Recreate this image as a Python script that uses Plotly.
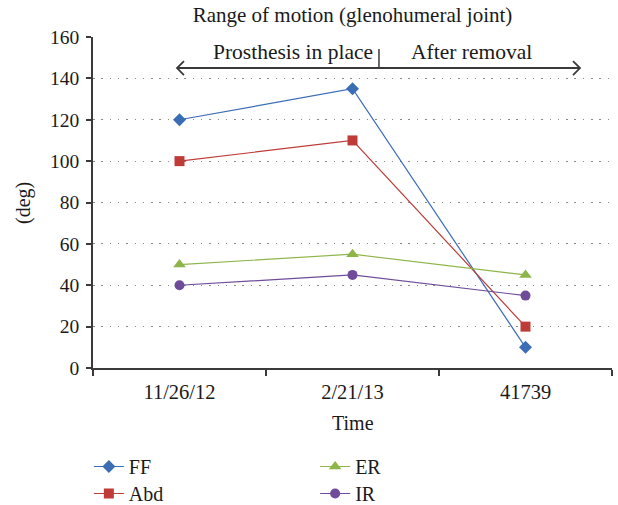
import plotly.graph_objects as go

categories = ["11/26/12", "2/21/13", "41739"]
ff = [120, 135, 10]
abd = [100, 110, 20]
er = [50, 55, 45]
ir = [40, 45, 35]
y_ticks = [0, 20, 40, 60, 80, 100, 120, 140, 160]

FONT = "Liberation Serif"
TXT = "#1a1a1a"
AX = "#3a3a3a"
fig = go.Figure()
series = [
    ("FF", ff, "#3b6db5", "diamond", 10, "legend"),
    ("Abd", abd, "#be3b38", "square", 10, "legend3"),
    ("ER", er, "#8db548", "triangle-up", 11, "legend2"),
    ("IR", ir, "#6e4c9a", "circle", 10, "legend4"),
]
for name, vals, col, sym, sz, lg in series:
    fig.add_trace(go.Scatter(
        x=categories, y=vals, name=name, mode="lines+markers",
        line=dict(color=col, width=1.2),
        marker=dict(symbol=sym, size=sz, color=col),
        legend=lg,
    ))


def leg(x, y):
    return dict(x=x, y=y, xanchor="left", yanchor="top", orientation="v",
                font=dict(size=20, family=FONT, color=TXT), tracegroupgap=0, itemwidth=30,
                bgcolor="rgba(0,0,0,0)")


row1 = -(447 - 368) / 331
row2 = -(474 - 368) / 331
fig.update_layout(
    width=618, height=505,
    margin=dict(l=93, r=6, t=37, b=137, autoexpand=False),
    paper_bgcolor="white", plot_bgcolor="white",
    font=dict(family=FONT, size=20, color=TXT),
    title=dict(text="Range of motion (glenohumeral joint)", x=0.5, xref="paper", xanchor="center",
               y=1 - 15 / 505, yref="container", yanchor="middle",
               font=dict(size=21, family=FONT, color=TXT)),
    legend=leg(-0.008, row1),
    legend2=leg(0.428, row1),
    legend3=leg(-0.008, row2),
    legend4=leg(0.428, row2),
    showlegend=True,
)
fig.update_xaxes(
    type="category", range=[-0.5, 2.5], tickson="boundaries",
    ticks="outside", ticklen=6, tickcolor=AX, tickwidth=1.5,
    showline=True, linecolor=AX, linewidth=1.8, showgrid=False,
    tickfont=dict(size=20.5, family=FONT, color=TXT), ticklabelstandoff=4,
    automargin=False,
)
fig.update_yaxes(
    range=[0, 160], tickvals=y_ticks, ticks="outside", ticklen=5,
    tickcolor=AX, tickwidth=1.5, showline=True, linecolor=AX, linewidth=1.8,
    showgrid=True, gridcolor="#8a8a8a", griddash="1.5px,6.8px", gridwidth=1.2, zeroline=False,
    tickfont=dict(size=19.5, family=FONT, color=TXT), ticklabelstandoff=3,
    automargin=False,
)

# axis titles as annotations
fig.add_annotation(text="Time", x=0.5, y=(368 - 422.5) / 331, xref="paper", yref="paper",
                   xanchor="center", yanchor="middle",
                   showarrow=False, font=dict(size=20, family=FONT, color=TXT))
fig.add_annotation(text="(deg)", x=(24 - 93) / 519, y=0.4985, xref="paper", yref="paper",
                   xanchor="center", yanchor="middle",
                   textangle=-90, showarrow=False, font=dict(size=20, family=FONT, color=TXT))

# Period arrow
y_arrow = 145
x_left, x_right = -0.0145, 2.315
fig.add_shape(type="line", x0=x_left, x1=x_right, y0=y_arrow, y1=y_arrow, xref="x", yref="y",
              line=dict(color=AX, width=2))
fig.add_shape(type="path", xref="x", yref="y", xsizemode="pixel", ysizemode="pixel",
              xanchor=x_left, yanchor=y_arrow, path="M 7,7 L 0,0 L 7,-7",
              line=dict(color=AX, width=1.8))
fig.add_shape(type="path", xref="x", yref="y", xsizemode="pixel", ysizemode="pixel",
              xanchor=x_right, yanchor=y_arrow, path="M -7,7 L 0,0 L -7,-7",
              line=dict(color=AX, width=1.8))
fig.add_shape(type="line", x0=1.153, x1=1.153, y0=145, y1=154.2, xref="x", yref="y",
              line=dict(color=AX, width=1.5))
fig.add_annotation(x=0.656, y=152.6, xref="x", yref="y", text="Prosthesis in place",
                   showarrow=False, font=dict(size=21.5, family=FONT, color=TXT))
fig.add_annotation(x=1.688, y=152.6, xref="x", yref="y", text="After removal",
                   showarrow=False, font=dict(size=21.5, family=FONT, color=TXT))

fig.write_html("out.html", config={"displayModeBar": False},
               post_script="document.body.style.margin='0';")
